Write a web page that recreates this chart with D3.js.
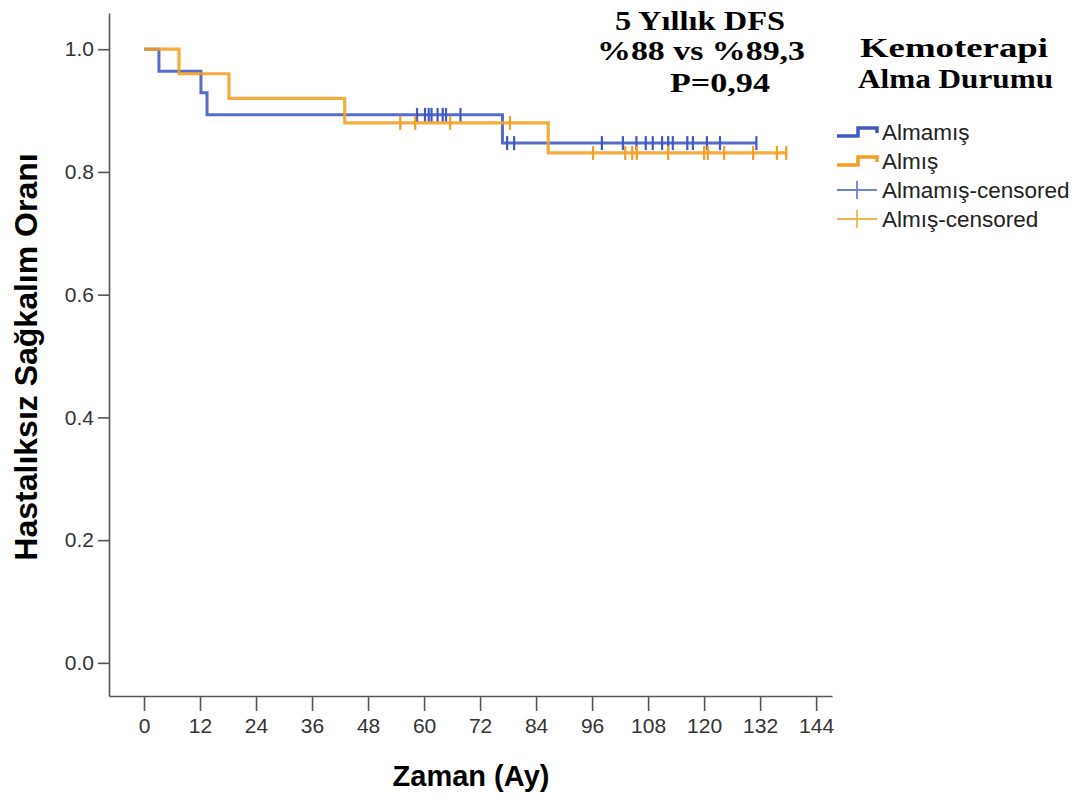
<!DOCTYPE html>
<html>
<head>
<meta charset="utf-8">
<script src="https://cdn.jsdelivr.net/npm/d3@7"></script>
<style>
  body { margin: 0; background: #fff; }
  .axis path, .axis line { stroke: #555; stroke-width: 1.6; }
  .axis text { font-family: "Liberation Sans", Arial, sans-serif; font-size: 21px; fill: #333; }
</style>
</head>
<body>
<svg width="1084" height="805"></svg>
<script>
var svg = d3.select('svg');

// Kaplan-Meier steps (time in months, survival)
var almamisTimes = [0, 3.2, 12.2, 13.5, 76.8];
var almamisSurv = [1, 0.964, 0.929, 0.893, 0.847];
var almamisEnd = 131.2;
var almamisCensored = [58.5, 60.2, 61.0, 61.6, 62.9, 64.0, 64.7, 67.8,
  77.8, 79.3, 98.1, 102.6, 105.5, 107.5, 109.0, 111.0, 112.3, 113.3,
  116.4, 117.6, 120.6, 123.4, 131.2];

var almisTimes = [0, 7.5, 18.2, 43.0, 86.6];
var almisSurv = [1, 0.96, 0.92, 0.88, 0.831];
var almisEnd = 137.8;
var almisCensored = [54.9, 58.1, 65.6, 78.4, 96.2, 103.1, 104.6, 105.6,
  112.3, 120.0, 120.8, 124.3, 130.5, 135.6, 137.6];

var xTicks = [0, 12, 24, 36, 48, 60, 72, 84, 96, 108, 120, 132, 144];
var yTicks = [0, 0.2, 0.4, 0.6, 0.8, 1.0];

var legendLabels = ['Almamış', 'Almış', 'Almamış-censored', 'Almış-censored'];
var titleLines = ['5 Yıllık DFS', '%88 vs %89,3', 'P=0,94'];
var legendTitle = ['Kemoterapi', 'Alma Durumu'];

var blue = '#4059c4', orange = '#f49f22';

// plot frame
var frame = {l: 109, r: 832, t: 13, b: 696};

var xScale = d3.scaleLinear().domain([-7.5, 147.4]).range([frame.l, frame.r]);
var yScale = d3.scaleLinear().domain([-0.054, 1.059]).range([frame.b, frame.t]);

svg.append('g')
    .attr('class', 'axis')
    .attr('transform', 'translate(' + [frame.l, 0] + ')')
    .call(d3.axisLeft(yScale).tickValues(yTicks).tickFormat(d3.format('.1f'))
      .tickSizeInner(11).tickSizeOuter(0).tickPadding(4));

svg.append('g')
    .attr('class', 'axis')
    .attr('transform', 'translate(' + [0, frame.b] + ')')
    .call(d3.axisBottom(xScale).tickValues(xTicks).tickSizeInner(15).tickSizeOuter(0).tickPadding(7));

function survAt(times, surv, t) {
  var i = d3.bisectRight(times, t) - 1;
  return surv[Math.max(i, 0)];
}

var line = d3.line()
    .x(function(d) { return xScale(d[0]); })
    .y(function(d) { return yScale(d[1]); })
    .curve(d3.curveStepAfter);

var groups = [
  {times: almamisTimes, surv: almamisSurv, end: almamisEnd, cens: almamisCensored, color: blue, w: 3},
  {times: almisTimes, surv: almisSurv, end: almisEnd, cens: almisCensored, color: orange, w: 3.2}
];

var chartG = svg.append('g');
groups.forEach(function(g) {
  var pts = g.times.map(function(t, i) { return [t, g.surv[i]]; });
  pts.push([g.end, g.surv[g.surv.length - 1]]);
  chartG.append('path')
      .attr('d', line(pts))
      .attr('fill', 'none')
      .attr('stroke', g.color)
      .attr('stroke-width', g.w)
      .attr('opacity', 0.88);
  chartG.selectAll(null)
      .data(g.cens)
      .enter().append('line')
      .attr('x1', function(d) { return xScale(d); })
      .attr('x2', function(d) { return xScale(d); })
      .attr('y1', function(d) { return yScale(survAt(g.times, g.surv, d)) - 7; })
      .attr('y2', function(d) { return yScale(survAt(g.times, g.surv, d)) + 7; })
      .attr('stroke', g.color)
      .attr('stroke-width', 2.2);
});

// axis titles
svg.append('text')
    .attr('transform', 'translate(37,357) rotate(-90)')
    .attr('text-anchor', 'middle')
    .style('font-family', '"Liberation Sans", Arial, sans-serif')
    .style('font-weight', 'bold')
    .style('font-size', '32px')
    .text('Hastalıksız Sağkalım Oranı');

svg.append('text')
    .attr('x', 471).attr('y', 786)
    .attr('text-anchor', 'middle')
    .style('font-family', '"Liberation Sans", Arial, sans-serif')
    .style('font-weight', 'bold')
    .style('font-size', '29px')
    .text('Zaman (Ay)');

// serif annotation block
var serifSpecs = [
  {x: 615, y: 30, w: 170}, {x: 597, y: 60, w: 208}, {x: 670, y: 92, w: 100}
];
titleLines.forEach(function(s, i) {
  svg.append('text')
      .attr('x', serifSpecs[i].x).attr('y', serifSpecs[i].y)
      .attr('textLength', serifSpecs[i].w)
      .attr('lengthAdjust', 'spacingAndGlyphs')
      .style('font-family', '"Liberation Serif", "Times New Roman", serif')
      .style('font-weight', 'bold')
      .style('font-size', '27px')
      .text(s);
});

var legTitleSpecs = [{x: 860, y: 57, w: 188}, {x: 858, y: 88, w: 195}];
legendTitle.forEach(function(s, i) {
  svg.append('text')
      .attr('x', legTitleSpecs[i].x).attr('y', legTitleSpecs[i].y)
      .attr('textLength', legTitleSpecs[i].w)
      .attr('lengthAdjust', 'spacingAndGlyphs')
      .style('font-family', '"Liberation Serif", "Times New Roman", serif')
      .style('font-weight', 'bold')
      .style('font-size', '27px')
      .text(s);
});

// legend
var legendG = svg.append('g');
var legColors = [blue, orange, '#6c82d8', '#f6b44f'];
legendLabels.forEach(function(s, i) {
  var yc = 132 + i * 29;
  if (i < 2) {
    legendG.append('path')
        .attr('d', 'M837,' + (yc + 4) + 'H858V' + (yc - 4) + 'H877V' + (yc + 1))
        .attr('fill', 'none')
        .attr('stroke', legColors[i])
        .attr('stroke-width', 3.5);
  } else {
    legendG.append('line')
        .attr('x1', 837).attr('x2', 877).attr('y1', yc).attr('y2', yc)
        .attr('stroke', legColors[i]).attr('stroke-width', 1.8);
    legendG.append('line')
        .attr('x1', 857).attr('x2', 857).attr('y1', yc - 9).attr('y2', yc + 9)
        .attr('stroke', legColors[i]).attr('stroke-width', 1.8);
  }
  legendG.append('text')
      .attr('x', 882).attr('y', yc + 8)
      .style('font-family', '"Liberation Sans", Arial, sans-serif')
      .style('font-size', '22.5px')
      .style('fill', '#222')
      .text(s);
});
</script>
</body>
</html>
